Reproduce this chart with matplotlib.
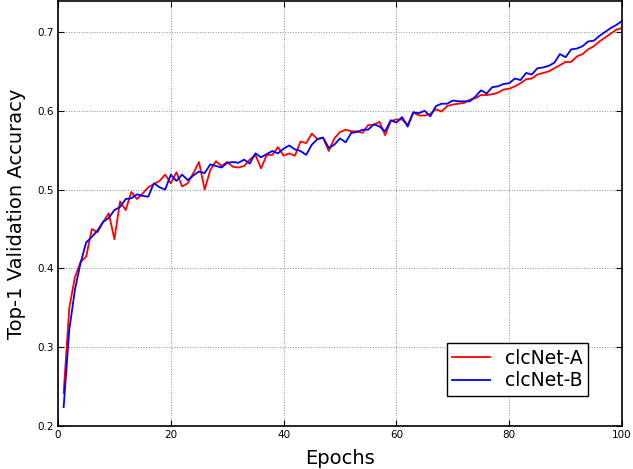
import matplotlib
matplotlib.use("Agg")
import matplotlib.pyplot as plt

epochs = list(range(1, 101))
acc_a = [0.242, 0.350, 0.389, 0.408, 0.415, 0.450, 0.446, 0.459, 0.470, 0.437,
         0.485, 0.474, 0.497, 0.488, 0.495, 0.503, 0.507, 0.511, 0.519, 0.508,
         0.522, 0.504, 0.508, 0.521, 0.535, 0.500, 0.525, 0.536, 0.530, 0.535,
         0.529, 0.528, 0.530, 0.538, 0.544, 0.527, 0.544, 0.544, 0.554, 0.543,
         0.546, 0.543, 0.561, 0.559, 0.571, 0.564, 0.566, 0.549, 0.565, 0.573,
         0.576, 0.574, 0.574, 0.572, 0.582, 0.582, 0.586, 0.569, 0.587, 0.589,
         0.589, 0.582, 0.598, 0.594, 0.594, 0.596, 0.602, 0.599, 0.606, 0.608,
         0.609, 0.610, 0.614, 0.616, 0.620, 0.620, 0.621, 0.623, 0.627, 0.628,
         0.631, 0.635, 0.640, 0.641, 0.646, 0.648, 0.650, 0.654, 0.658, 0.662,
         0.662, 0.669, 0.672, 0.678, 0.682, 0.688, 0.693, 0.698, 0.703, 0.705]
acc_b = [0.224, 0.322, 0.373, 0.407, 0.433, 0.440, 0.448, 0.459, 0.464, 0.474,
         0.478, 0.488, 0.489, 0.494, 0.492, 0.491, 0.508, 0.503, 0.500, 0.519,
         0.511, 0.519, 0.512, 0.518, 0.523, 0.521, 0.532, 0.530, 0.528, 0.534,
         0.535, 0.534, 0.538, 0.533, 0.546, 0.541, 0.545, 0.549, 0.546, 0.552,
         0.556, 0.551, 0.549, 0.544, 0.557, 0.564, 0.566, 0.553, 0.557, 0.565,
         0.560, 0.572, 0.573, 0.576, 0.576, 0.583, 0.580, 0.574, 0.588, 0.585,
         0.592, 0.580, 0.598, 0.597, 0.600, 0.593, 0.606, 0.609, 0.609, 0.613,
         0.612, 0.612, 0.612, 0.618, 0.626, 0.622, 0.630, 0.631, 0.634, 0.635,
         0.641, 0.639, 0.648, 0.646, 0.654, 0.655, 0.657, 0.661, 0.672, 0.668,
         0.678, 0.679, 0.682, 0.688, 0.689, 0.695, 0.700, 0.705, 0.709, 0.714]
labels = ["clcNet-A", "clcNet-B"]
xticks = [0, 20, 40, 60, 80, 100]
yticks = [0.2, 0.3, 0.4, 0.5, 0.6, 0.7]

fig = plt.figure(figsize=(6.33, 4.69), dpi=100, facecolor="white")
ax = fig.add_axes([58/633, 1-426/469, (622-58)/633, (426-1.5)/469])
ax.plot(epochs, acc_a, color="red", lw=1.3, label=labels[0])
ax.plot(epochs, acc_b, color="blue", lw=1.3, label=labels[1])
ax.set_xlim(0, 100)
ax.set_ylim(0.2, 0.7387)
ax.set_xticks(xticks)
ax.set_yticks(yticks)
ax.set_xticklabels([str(t) for t in xticks])
ax.set_yticklabels([f"{t:.1f}" for t in yticks])
ax.tick_params(direction="in", length=4, width=0.8, labelsize=7.5, top=True, right=True, pad=3)
ax.grid(True, color="0.55", linestyle=":", linewidth=0.7)
for s in ax.spines.values():
    s.set_linewidth(1.2)
ax.set_xlabel("Epochs", fontsize=14, labelpad=6.5)
ax.set_ylabel("Top-1 Validation Accuracy", fontsize=14, labelpad=8)
leg = ax.legend(loc="lower right", fontsize=13.5, fancybox=False, framealpha=1,
                edgecolor="black", bbox_to_anchor=(530/564, 30/424.5),
                borderaxespad=0, handlelength=2.0, labelspacing=0.2,
                borderpad=0.3, handletextpad=0.8)
leg.get_frame().set_linewidth(1.0)
fig.savefig("out.png", dpi=100, facecolor="white")
